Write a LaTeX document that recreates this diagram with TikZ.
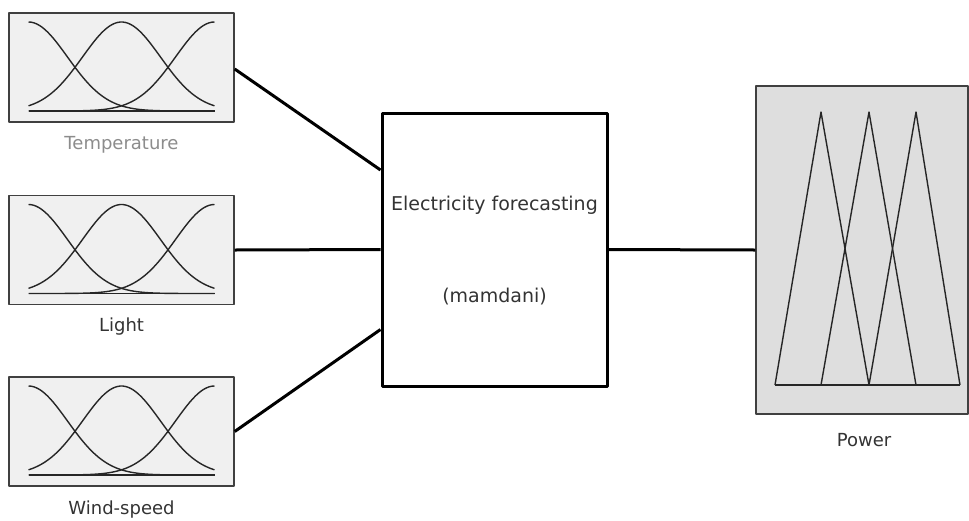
\documentclass[tikz,border=0pt]{standalone}
\usepackage{fontspec}
\setmainfont{DejaVu Sans}
\begin{document}
\begin{tikzpicture}[x=1pt,y=-1pt,line join=round]
\tikzset{inbox/.style={draw=black!75,fill=black!6,line width=1.4pt,minimum width=225pt,minimum height=109pt,inner sep=0pt},
outbox/.style={draw=black!75,fill=black!13,line width=1.4pt,minimum width=212pt,minimum height=328pt,inner sep=0pt},
fisbox/.style={draw,line width=3pt,minimum width=225pt,minimum height=273pt,inner sep=0pt},
mfname/.style={font=\fontsize{18}{20}\selectfont,text=black!80},
mfline/.style={draw=black!85,line width=1.4pt},
conn/.style={line width=3pt}}
\useasboundingbox (0,0) rectangle (969,520);
\node[inbox] (temp) at (121.5,67.5) {};
\node[inbox] (light) at (121.5,250) {};
\node[inbox] (wind) at (121.5,431.5) {};
\node[mfname,text=black!45] (templbl) at (121.5,145) {Temperature};
\node[mfname] (lightlbl) at (121.5,327) {Light};
\node[mfname] (windlbl) at (121.5,510) {Wind-speed};
\foreach \n in {temp,light,wind}{
\begin{scope}[shift={(\n.center)}]
\foreach \c in {-93,0,93}
\draw[mfline] plot[domain=-93:93,samples=70,smooth] (\x,{43.5-89*exp(-0.5*((\x-\c)/39)^2)});
\draw[mfline] (-93,43.5)--(93,43.5);
\end{scope}
}
\node[fisbox] (fis) at (494.5,249.5) {};
\node[mfname,font=\fontsize{19}{21}\selectfont] (fisname) at (494.5,205) {Electricity forecasting};
\node[mfname,font=\fontsize{19}{21}\selectfont] (fistype) at (494.5,297) {(mamdani)};
\node[outbox] (power) at (862,250) {};
\node[mfname] (powerlbl) at (864,440) {Power};
\foreach \l/\p/\r in {775/821/869,821/869/916,869/916/960}
\draw[mfline] (\l,385)--(\p,112)--(\r,385);
\draw[mfline] (775,385)--(960,385);
\draw[conn] ([yshift=-1.5pt]temp.east)--([yshift=79.5pt]fis.west);
\draw[conn] (light.east)--(fis.west);
\draw[conn] (wind.east)--([yshift=-80pt]fis.west);
\draw[conn] (fis.east)--(power.west);
\end{tikzpicture}
\end{document}
